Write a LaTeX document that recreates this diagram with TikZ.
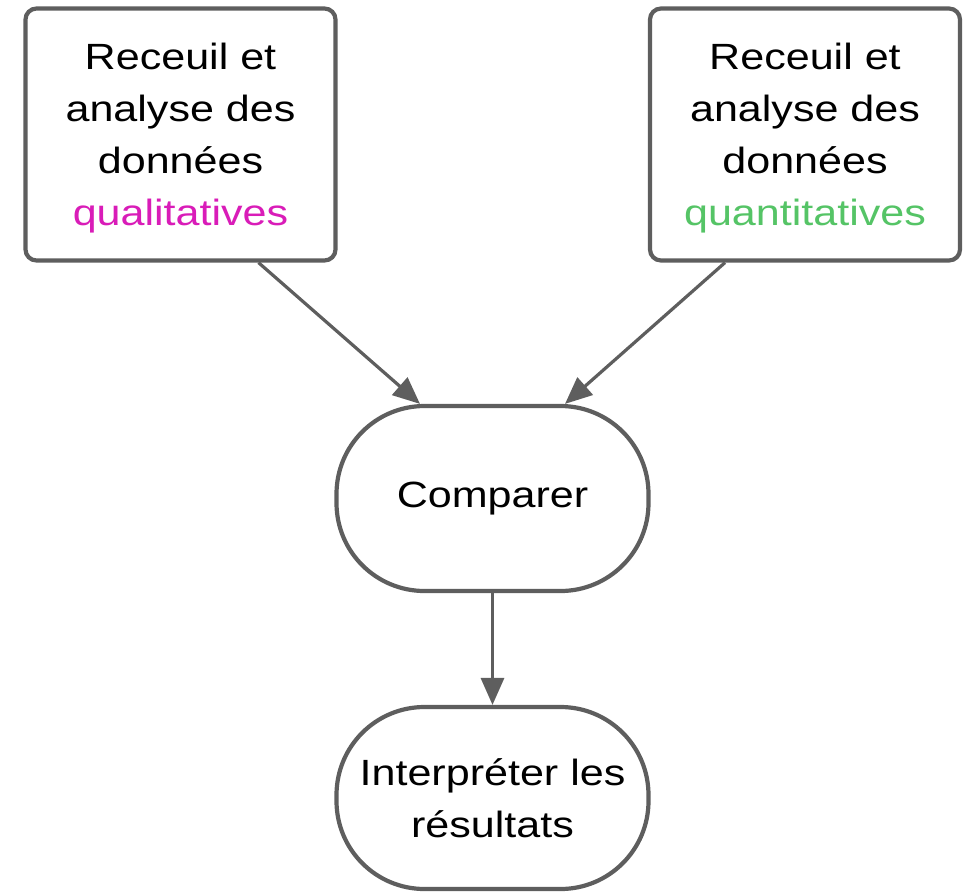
\documentclass[tikz,border=0pt]{standalone}
\usepackage{fontspec}
\setmainfont{Liberation Sans}[FakeStretch=1.18]
\usetikzlibrary{arrows.meta,calc,shapes.misc}
\definecolor{edgegray}{HTML}{5E5E5E}
\definecolor{qualcol}{HTML}{D91CB8}
\definecolor{quancol}{HTML}{55C466}
\begin{document}
\begin{tikzpicture}[x=1pt,y=-1pt,
  txt/.style={font=\fontsize{36.5}{52}\selectfont, align=center, text=black},
  databox/.style={draw=edgegray, line width=4.2pt, rounded corners=11pt, fill=white,
     minimum width=310pt, minimum height=252pt, inner sep=0pt},
  pill/.style={txt, draw=edgegray, line width=4.2pt, rounded corners=88pt, fill=white,
     minimum width=312pt, inner sep=0pt},
  link/.style={draw=edgegray, line width=3.2pt, -{Triangle[length=27pt,width=23pt]}}
]
\useasboundingbox (0,0) rectangle (970,895);
\node[databox] (L) at (180.5,134.5) {};
\node[txt] (Lt) at (180.5,138.5) {Receuil et\\analyse des\\données\\\textcolor{qualcol}{qualitatives}};
\node[databox] (R) at (805,134.5) {};
\node[txt] (Rt) at (805,138.5) {Receuil et\\analyse des\\données\\\textcolor{quancol}{quantitatives}};
\node[pill, minimum height=185pt] (C) at (492.5,498.5) {Comparer};
\node[pill, minimum height=182pt] (I) at (492.5,798) {Interpréter les\\résultats};
\draw[link] ($(L.south)+(78,0)$) -- ($(C.north)+(-72.5,0)$);
\draw[link] ($(R.south)+(-80,0)$) -- ($(C.north)+(72.5,0)$);
\draw[link] (C.south) -- (I.north);
\end{tikzpicture}
\end{document}
